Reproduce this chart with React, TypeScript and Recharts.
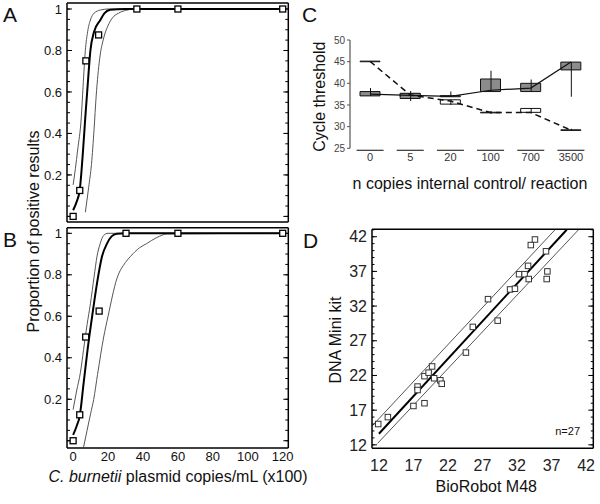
import React from 'react';
import { ComposedChart, Line, Scatter, XAxis, YAxis, Bar } from 'recharts';

const FONT = '"Liberation Sans", Arial, Helvetica, sans-serif';

// ---------- Panel A ----------
const aPointX = [0, 3.8, 7.3, 14.6, 36.5, 60, 120];
const aPointY = [0, 0.125, 0.75, 0.875, 1, 1, 1];
const aFitX = [0, 2, 3.8, 5.7, 7, 8.4, 9.9, 12, 15.6, 18, 21.3, 30, 120];
const aFitY = [0.03, 0.07, 0.128, 0.32, 0.48, 0.64, 0.8, 0.89, 0.947, 0.98, 0.997, 1, 1];
const aLowX = [0, 1.3, 2.6, 4.7, 5.7, 7, 8.3, 9.9, 12, 15.6, 20, 120];
const aLowY = [0.152, 0.23, 0.32, 0.48, 0.626, 0.8, 0.89, 0.947, 0.98, 0.995, 1, 1];
const aHighX = [7, 8.9, 10.5, 12, 13.2, 15.2, 17.5, 20, 22.3, 26, 30, 35, 120];
const aHighY = [0.02, 0.14, 0.25, 0.42, 0.58, 0.76, 0.86, 0.92, 0.955, 0.98, 0.993, 1, 1];

// ---------- Panel B ----------
const bPointX = [0, 3.8, 7.2, 14.9, 30.3, 60, 120];
const bPointY = [0, 0.125, 0.5, 0.625, 1, 1, 1];
const bFitX = [0, 2, 3.8, 6, 8.3, 10.9, 13.7, 16.6, 19.4, 22, 25, 30, 120];
const bFitY = [0.028, 0.07, 0.12, 0.277, 0.44, 0.6, 0.76, 0.89, 0.95, 0.985, 0.998, 1, 1];
const bLowX = [0, 2, 4.2, 6, 8, 9.9, 12, 13.7, 15.5, 17.5, 20, 120];
const bLowY = [0.15, 0.24, 0.33, 0.44, 0.56, 0.66, 0.79, 0.89, 0.95, 0.99, 1, 1];
const bHighX = [6, 8, 10, 11.8, 14, 17.5, 20, 25, 30, 33, 38, 42, 48, 54, 120];
const bHighY = [-0.03, 0.05, 0.13, 0.2, 0.32, 0.5, 0.6, 0.78, 0.86, 0.89, 0.93, 0.95, 0.98, 0.997, 1];

const abXMajor = [0, 20, 40, 60, 80, 100, 120];
const abXMinor = [0, 5, 10, 15, 20, 25, 30, 35, 40, 45, 50, 55, 60, 65, 70, 75, 80, 85, 90, 95, 100, 105, 110, 115, 120];
const abYLabels = [0.2, 0.4, 0.6, 0.8, 1];
const abYMajor = [0, 0.2, 0.4, 0.6, 0.8, 1];
const abYMinor = [0, 0.05, 0.1, 0.15, 0.2, 0.25, 0.3, 0.35, 0.4, 0.45, 0.5, 0.55, 0.6, 0.65, 0.7, 0.75, 0.8, 0.85, 0.9, 0.95, 1];

// ---------- Panel C ----------
const cCategories = ['0', '5', '20', '100', '700', '3500'];
const cGrayBoxLow = [37.1, 36.5, 36.9, 38.1, 38.1, 43.1];
const cGrayBoxHigh = [38.1, 37.7, 37.15, 41.0, 40.0, 44.9];
const cGrayWhiskerLow = [37.1, 35.9, 36.9, 38.1, 38.1, 36.9];
const cGrayWhiskerHigh = [38.9, 38.2, 38.1, 42.9, 40.9, 44.9];
const cGrayMedian = [37.5, 37.2, 37.0, 38.4, 38.9, 44.9];
const cWhiteBoxLow = [44.98, 37.0, 35.2, 33.18, 33.3, 29.13];
const cWhiteBoxHigh = [45.12, 37.6, 36.2, 33.32, 34.2, 29.27];
const cWhiteWhiskerLow = [45.0, 37.0, 35.0, 33.0, 33.3, 29.0];
const cWhiteWhiskerHigh = [45.0, 37.6, 36.2, 33.6, 34.2, 29.5];
const cWhiteMedian = [45.05, 37.3, 35.9, 33.25, 33.25, 29.2];
const cYTicks = [25, 30, 35, 40, 45, 50];

// ---------- Panel D ----------
const dPointX = [11.9, 13.3, 17.0, 18.6, 17.6, 17.6, 18.6, 19.2, 19.7, 20.0, 20.9, 21.1, 24.6, 25.6, 27.8, 29.2, 31.0, 31.7, 32.3, 33.1, 33.6, 33.7, 34.0, 34.6, 36.2, 36.4, 36.3];
const dPointY = [15.0, 16.0, 17.6, 18.0, 20.4, 19.9, 21.9, 22.4, 23.3, 21.6, 21.3, 20.8, 25.3, 29.0, 33.0, 29.9, 34.4, 34.5, 36.6, 36.6, 37.8, 35.9, 40.8, 41.6, 39.9, 37.0, 35.9];
const dFitX = [12.0, 39.2];
const dFitY = [13.6, 43.0];
const dUpperX = [11.0, 37.5];
const dUpperY = [14.7, 43.0];
const dLowerX = [11.8, 40.9];
const dLowerY = [12.2, 43.0];
const dTicks = [12, 17, 22, 27, 32, 37, 42];
const dMinor = [12, 13, 14, 15, 16, 17, 18, 19, 20, 21, 22, 23, 24, 25, 26, 27, 28, 29, 30, 31, 32, 33, 34, 35, 36, 37, 38, 39, 40, 41, 42, 43];

const toXY = (xs: number[], ys: number[]) => xs.map((x, i) => ({ x, y: ys[i] }));

const cData = cCategories.map((cat, i) => ({
  cat,
  grayBox: [cGrayBoxLow[i], cGrayBoxHigh[i]],
  grayWhisker: [cGrayWhiskerLow[i], cGrayWhiskerHigh[i]],
  grayMed: cGrayMedian[i],
  whiteBox: [cWhiteBoxLow[i], cWhiteBoxHigh[i]],
  whiteWhisker: [cWhiteWhiskerLow[i], cWhiteWhiskerHigh[i]],
  whiteMed: cWhiteMedian[i],
}));

const frameLine = { stroke: '#000', strokeWidth: 1.5 };
const tickLn = { stroke: '#000', strokeWidth: 1 };
const TINY = 0.001;
const EmptyTick = () => <g />;

function frameAxes(
  xDomain: [number, number],
  yDomain: [number, number],
  xMajor: number[],
  xMinor: number[],
  yMajor: number[],
  yMinor: number[],
  majorLen: number,
  minorLen: number
) {
  return [
    <XAxis key="xb1" xAxisId="xb1" type="number" domain={xDomain} allowDataOverflow ticks={xMajor} interval={0} tick={EmptyTick} orientation="bottom" mirror height={TINY} tickSize={majorLen} axisLine={false} tickLine={tickLn} />,
    <XAxis key="xb2" xAxisId="xb2" type="number" domain={xDomain} allowDataOverflow ticks={xMinor} interval={0} tick={EmptyTick} orientation="bottom" mirror height={TINY} tickSize={minorLen} axisLine={false} tickLine={tickLn} />,
    <XAxis key="xt1" xAxisId="xt1" type="number" domain={xDomain} allowDataOverflow ticks={xMajor} interval={0} tick={EmptyTick} orientation="top" mirror height={TINY} tickSize={majorLen} axisLine={frameLine} tickLine={tickLn} />,
    <XAxis key="xt2" xAxisId="xt2" type="number" domain={xDomain} allowDataOverflow ticks={xMinor} interval={0} tick={EmptyTick} orientation="top" mirror height={TINY} tickSize={minorLen} axisLine={false} tickLine={tickLn} />,
    <YAxis key="yl1" yAxisId="yl1" type="number" domain={yDomain} allowDataOverflow ticks={yMajor} interval={0} tick={EmptyTick} orientation="left" mirror width={TINY} tickSize={majorLen} axisLine={false} tickLine={tickLn} />,
    <YAxis key="yl2" yAxisId="yl2" type="number" domain={yDomain} allowDataOverflow ticks={yMinor} interval={0} tick={EmptyTick} orientation="left" mirror width={TINY} tickSize={minorLen} axisLine={false} tickLine={tickLn} />,
    <YAxis key="yr1" yAxisId="yr1" type="number" domain={yDomain} allowDataOverflow ticks={yMajor} interval={0} tick={EmptyTick} orientation="right" mirror width={TINY} tickSize={majorLen} axisLine={frameLine} tickLine={tickLn} />,
    <YAxis key="yr2" yAxisId="yr2" type="number" domain={yDomain} allowDataOverflow ticks={yMinor} interval={0} tick={EmptyTick} orientation="right" mirror width={TINY} tickSize={minorLen} axisLine={false} tickLine={tickLn} />,
  ];
}

const squareShape = (size: number, stroke: string, sw: number) => (props: any) => {
  const { cx, cy } = props;
  if (cx == null || cy == null) return <g />;
  return <rect x={cx - size / 2} y={cy - size / 2} width={size} height={size} fill="#fff" stroke={stroke} strokeWidth={sw} />;
};

function DoseChart(props: {
  showXLabels: boolean;
  height: number;
  marginBottom: number;
  marginTop: number;
  yDomain: [number, number];
  points: { x: number; y: number }[];
  fit: { x: number; y: number }[];
  low: { x: number; y: number }[];
  high: { x: number; y: number }[];
}) {
  const xDomain: [number, number] = [-3.5, 123.2];
  return (
    <ComposedChart width={300} height={props.height} margin={{ top: props.marginTop, right: 11.7, bottom: props.marginBottom, left: 0 }}>
      <XAxis
        xAxisId="main"
        dataKey="x"
        type="number"
        domain={xDomain}
        allowDataOverflow
        ticks={abXMajor}
        interval={0}
        orientation="bottom"
        height={props.showXLabels ? 20 : TINY}
        tick={props.showXLabels ? { fontSize: 13, fill: '#111' } : false}
        tickLine={false}
        tickSize={0}
        tickMargin={4}
        axisLine={frameLine}
      />
      <YAxis
        yAxisId="main"
        dataKey="y"
        type="number"
        domain={props.yDomain}
        allowDataOverflow
        ticks={abYLabels}
        interval={0}
        width={67}
        tick={{ fontSize: 13, fill: '#111' }}
        tickLine={false}
        tickSize={0}
        tickMargin={5}
        axisLine={frameLine}
      />
      {frameAxes(xDomain, props.yDomain, abXMajor, abXMinor, abYMajor, abYMinor, 5, 3)}
      <Line xAxisId="main" yAxisId="main" data={props.low} dataKey="y" type="monotone" dot={false} stroke="#555" strokeWidth={1} isAnimationActive={false} />
      <Line xAxisId="main" yAxisId="main" data={props.high} dataKey="y" type="monotone" dot={false} stroke="#555" strokeWidth={1} isAnimationActive={false} />
      <Line xAxisId="main" yAxisId="main" data={props.fit} dataKey="y" type="monotone" dot={false} stroke="#000" strokeWidth={2} isAnimationActive={false} />
      <Scatter xAxisId="main" yAxisId="main" data={props.points} dataKey="y" shape={squareShape(6, '#000', 1.3)} isAnimationActive={false} />
    </ComposedChart>
  );
}

const CTick = (props: any) => {
  const { x, y, payload } = props;
  return (
    <g>
      <line x1={x - 13.5} x2={x + 13.5} y1={y + 2} y2={y + 2} stroke="#333" strokeWidth={1.2} />
      <text x={x} y={y + 13} textAnchor="middle" fontSize={11} fill="#333">
        {payload.value}
      </text>
    </g>
  );
};

function CycleChart() {
  return (
    <ComposedChart width={300} height={200} data={cData} margin={{ top: 40, right: 9, bottom: 21.7, left: 0 }}>
      <XAxis xAxisId="c" dataKey="cat" type="category" interval={0} height={30} tickLine={false} axisLine={false} tickSize={0} tickMargin={0} tick={<CTick />} />
      <XAxis xAxisId="g" dataKey="cat" type="category" hide />
      <XAxis xAxisId="gw" dataKey="cat" type="category" hide />
      <XAxis xAxisId="w" dataKey="cat" type="category" hide />
      <XAxis xAxisId="ww" dataKey="cat" type="category" hide />
      <YAxis
        type="number"
        domain={[25, 50]}
        allowDataOverflow
        ticks={cYTicks}
        interval={0}
        width={50}
        tick={{ fontSize: 10, fill: '#444' }}
        tickSize={3}
        tickMargin={2}
        tickLine={{ stroke: '#555' }}
        axisLine={{ stroke: '#555', strokeWidth: 1.2 }}
      />
      <Bar xAxisId="w" dataKey="whiteBox" barSize={20} fill="#fff" stroke="#111" strokeWidth={1} isAnimationActive={false} />
      <Bar xAxisId="g" dataKey="grayBox" barSize={20} fill="#8c8c8c" stroke="#111" strokeWidth={1} isAnimationActive={false} />
      <Bar xAxisId="ww" dataKey="whiteWhisker" barSize={1} fill="#111" isAnimationActive={false} />
      <Bar xAxisId="gw" dataKey="grayWhisker" barSize={1} fill="#111" isAnimationActive={false} />
      <Line xAxisId="c" dataKey="whiteMed" type="linear" dot={false} stroke="#111" strokeWidth={1.5} strokeDasharray="6 4" isAnimationActive={false} />
      <Line xAxisId="c" dataKey="grayMed" type="linear" dot={false} stroke="#111" strokeWidth={1.2} isAnimationActive={false} />
    </ComposedChart>
  );
}

function CompareChart() {
  const xDomain: [number, number] = [11.0, 43.05];
  const yDomain: [number, number] = [11.5, 43.07];
  return (
    <ComposedChart width={300} height={279} margin={{ top: 4.3, right: 6.7, bottom: 25.7, left: 0 }}>
      <XAxis
        xAxisId="main"
        dataKey="x"
        type="number"
        domain={xDomain}
        allowDataOverflow
        ticks={dTicks}
        interval={0}
        height={30}
        tick={{ fontSize: 16, fill: '#222' }}
        tickLine={false}
        tickSize={0}
        tickMargin={11.5}
        axisLine={frameLine}
      />
      <YAxis
        yAxisId="main"
        dataKey="y"
        type="number"
        domain={yDomain}
        allowDataOverflow
        ticks={dTicks}
        interval={0}
        width={72}
        tick={{ fontSize: 16, fill: '#222' }}
        tickLine={false}
        tickSize={0}
        tickMargin={5}
        axisLine={frameLine}
      />
      {frameAxes(xDomain, yDomain, dTicks, dMinor, dTicks, dMinor, 5, 2.5)}
      <Line xAxisId="main" yAxisId="main" data={toXY(dUpperX, dUpperY)} dataKey="y" type="linear" dot={false} stroke="#555" strokeWidth={1} isAnimationActive={false} />
      <Line xAxisId="main" yAxisId="main" data={toXY(dLowerX, dLowerY)} dataKey="y" type="linear" dot={false} stroke="#555" strokeWidth={1} isAnimationActive={false} />
      <Line xAxisId="main" yAxisId="main" data={toXY(dFitX, dFitY)} dataKey="y" type="linear" dot={false} stroke="#000" strokeWidth={2} isAnimationActive={false} />
      <Scatter xAxisId="main" yAxisId="main" data={toXY(dPointX, dPointY)} dataKey="y" shape={squareShape(5.5, '#333', 1)} isAnimationActive={false} />
    </ComposedChart>
  );
}

export default function App() {
  return (
    <div style={{ position: 'absolute', left: 0, top: 0, width: 600, height: 504, background: '#fff', fontFamily: FONT, overflow: 'hidden' }}>
      <div style={{ position: 'absolute', left: 0, top: 0 }}>
        <DoseChart
          showXLabels={false}
          height={226}
          marginTop={3}
          marginBottom={4}
          yDomain={[-0.027, 1.029]}
          points={toXY(aPointX, aPointY)}
          fit={toXY(aFitX, aFitY)}
          low={toXY(aLowX, aLowY)}
          high={toXY(aHighX, aHighY)}
        />
      </div>
      <div style={{ position: 'absolute', left: 0, top: 225 }}>
        <DoseChart
          showXLabels={true}
          height={250}
          marginTop={2.7}
          marginBottom={7}
          yDomain={[-0.035, 1.027]}
          points={toXY(bPointX, bPointY)}
          fit={toXY(bFitX, bFitY)}
          low={toXY(bLowX, bLowY)}
          high={toXY(bHighX, bHighY)}
        />
      </div>
      <div style={{ position: 'absolute', left: 300, top: 0 }}>
        <CycleChart />
      </div>
      <div style={{ position: 'absolute', left: 300, top: 225 }}>
        <CompareChart />
      </div>
      <svg width={600} height={504} style={{ position: 'absolute', left: 0, top: 0, pointerEvents: 'none' }} fontFamily={FONT}>
        <text x={3} y={22} fontSize={21} fill="#111">A</text>
        <text x={3} y={247} fontSize={21} fill="#111">B</text>
        <text x={302} y={22} fontSize={21} fill="#111">C</text>
        <text x={303} y={248} fontSize={21} fill="#111">D</text>
        <text transform="translate(38.5,231.5) rotate(-90)" textAnchor="middle" fontSize={16} fill="#111">Proportion of positive results</text>
        <text x={178} y={482} textAnchor="middle" fontSize={16} fill="#111">
          <tspan fontStyle="italic">C. burnetii</tspan> plasmid copies/mL (x100)
        </text>
        <text transform="translate(324.7,96.7) rotate(-90)" textAnchor="middle" fontSize={16} fill="#111">Cycle threshold</text>
        <text x={470} y={189} textAnchor="middle" fontSize={16} fill="#111">n copies internal control/ reaction</text>
        <text transform="translate(340.7,340) rotate(-90)" textAnchor="middle" fontSize={16} fill="#111">DNA Mini kit</text>
        <text x={486.3} y={492} textAnchor="middle" fontSize={16} fill="#111">BioRobot M48</text>
        <text x={580} y={435} textAnchor="end" fontSize={11} fill="#111">n=27</text>
      </svg>
    </div>
  );
}
